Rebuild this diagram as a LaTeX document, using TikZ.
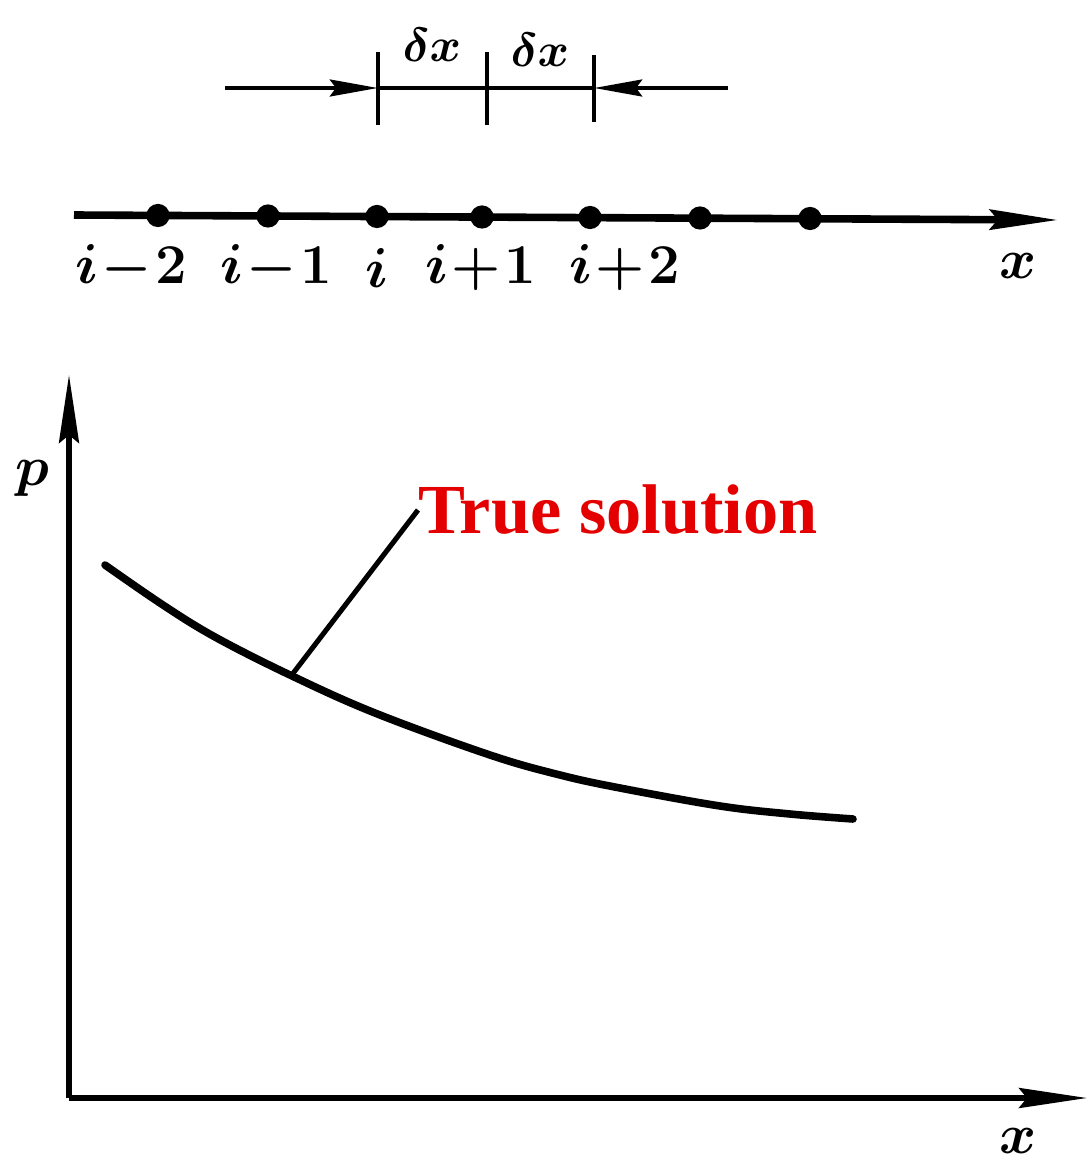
\documentclass[tikz,border=0pt]{standalone}
\usepackage{fix-cm}
\usepackage{fontspec}
\setmainfont{Liberation Serif}
\usetikzlibrary{arrows.meta}
\definecolor{tsred}{RGB}{228,0,0}
\begin{document}
\begin{tikzpicture}[x=0.025cm,y=-0.025cm,
  lbl/.style={inner sep=0pt, font=\fontsize{40}{44}\selectfont\boldmath},
  dlbl/.style={inner sep=0pt, font=\fontsize{34}{38}\selectfont\boldmath},
  dimline/.style={line width=3.2pt},
  tickline/.style={line width=3.4pt},
  numline/.style={line width=5.4pt},
  axisline/.style={line width=3.6pt},
  curveline/.style={line width=5.4pt, line cap=round},
  leader/.style={line width=3.6pt},
  dimtip/.style={-{Stealth[length=1.2cm,width=0.42cm,inset=0.15cm]}},
  longtip/.style={-{Stealth[length=1.7cm,width=0.5cm,inset=0.2cm]}},
  dot/.style={circle, fill=black, inner sep=0pt, minimum size=0.58cm}]
\useasboundingbox[fill=white] (0,0) rectangle (1089,1168);

% ---- top dimension line
\coordinate (dl) at (225,88);
\coordinate (dr) at (728,88);
\coordinate (m1) at (378,88);
\coordinate (m2) at (487,88);
\coordinate (m3) at (594,88);
\coordinate (t1a) at (378,52); \coordinate (t1b) at (378,125);
\coordinate (t2a) at (487,52); \coordinate (t2b) at (487,125);
\coordinate (t3a) at (594,55); \coordinate (t3b) at (594,122);
\draw[tickline] (t1a) -- (t1b);
\draw[tickline] (t2a) -- (t2b);
\draw[tickline] (t3a) -- (t3b);
\draw[dimline] (m1) -- (m3);
\draw[dimline, dimtip] (dl) -- (m1);
\draw[dimline, dimtip] (dr) -- (m3);
\node[dlbl] (dx1) at (432,45) {$\delta x$};
\node[dlbl] (dx2) at (540,50) {$\delta x$};

% ---- number line
\coordinate (nl) at (74,215);
\coordinate (nr) at (1058,220);
\draw[numline, longtip] (nl) -- (nr);
\node[dot] (p1) at (158,215.5) {};
\node[dot] (p2) at (268,216) {};
\node[dot] (p3) at (377,216.5) {};
\node[dot] (p4) at (482,217) {};
\node[dot] (p5) at (590,217.5) {};
\node[dot] (p6) at (700,218) {};
\node[dot] (p7) at (810,218.5) {};
\node[lbl] (l1) at (131,268) {$i\!-\!2$};
\node[lbl] (l2) at (276,268) {$i\!-\!1$};
\node[lbl] (l3) at (377,268) {$i$};
\node[lbl] (l4) at (481,268) {$i\!+\!1$};
\node[lbl] (l5) at (625,268) {$i\!+\!2$};
\node[lbl] (lx) at (1018,266) {$x$};

% ---- axes
\coordinate (o) at (69,1098);
\coordinate (ytop) at (69,375);
\coordinate (xend) at (1087,1098);
\draw[axisline, longtip] (o) -- (ytop);
\draw[axisline, longtip] (o) -- (xend);
\node[lbl] (py) at (32,478) {$p$};
\node[lbl] (px) at (1018,1141) {$x$};

% ---- true solution curve
\draw[curveline] plot[smooth, tension=0.6] coordinates {
  (105,565) (163,605) (215,637) (290,675) (375,713) (490,755)
  (560,775) (620,788) (720,806) (790,814) (853,819)};
\coordinate (cp) at (291,676);
\node[anchor=west, inner sep=0pt, text=tsred,
  font=\fontsize{50}{54}\selectfont\bfseries] (ts) at (418,510) {True solution};
\draw[leader] (cp) -- (ts.west);
\end{tikzpicture}
\end{document}
